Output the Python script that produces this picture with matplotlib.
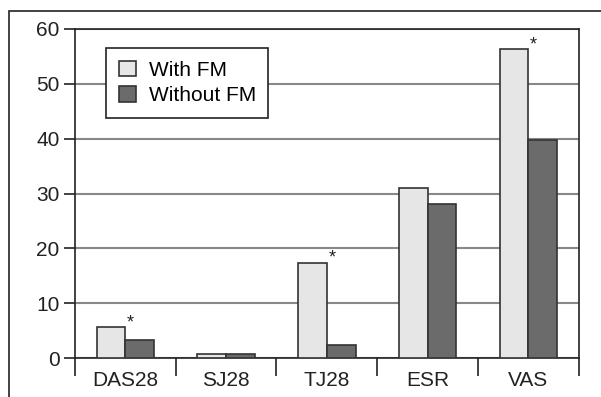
import numpy as np
import matplotlib.pyplot as plt
from matplotlib.patches import Rectangle

plt.rcParams['font.family'] = ['Liberation Sans', 'DejaVu Sans']

categories = ["DAS28", "SJ28", "TJ28", "ESR", "VAS"]
with_fm = [5.7, 0.8, 17.4, 31.0, 56.3]
without_fm = [3.3, 0.8, 2.3, 28.1, 39.8]
significant = [True, False, True, False, True]
y_ticks = [0, 10, 20, 30, 40, 50, 60]

fig = plt.figure(figsize=(6.01, 3.97), dpi=100)
fig.patches.append(Rectangle((9 / 601, -0.1), 1.2, (397 - 11) / 397 + 0.1,
                             transform=fig.transFigure, fill=False,
                             edgecolor="#222222", linewidth=1.2))
ax = fig.add_axes([75 / 601, 39 / 397, (578.7 - 75) / 601, (358 - 29) / 397])

x = np.arange(len(categories))
w = 0.285
ax.bar(x - w / 2, with_fm, w, color="#e6e6e6", edgecolor="#333333",
       linewidth=1.2, label="With FM", zorder=3)
ax.bar(x + w / 2, without_fm, w, color="#6b6b6b", edgecolor="#333333",
       linewidth=1.2, label="Without FM", zorder=3)

# significance markers
for i, sig in enumerate(significant):
    if sig:
        ax.text(x[i] + 0.05, with_fm[i] - 0.8, "*", ha="center", va="bottom",
                fontsize=13, color="#222222")

ax.set_xlim(-0.5, len(categories) - 0.5)
ax.set_ylim(0, 60)
ax.set_yticks(y_ticks)
ax.tick_params(axis="y", length=8, width=1.2, labelsize=15, pad=3,
               colors="#222222")
ax.set_xticks(x)
ax.set_xticklabels(categories)
ax.set_xticks(np.arange(-0.5, len(categories)), minor=True)
ax.tick_params(axis="x", which="major", length=0, labelsize=15, pad=9.5,
               colors="#222222")
ax.tick_params(axis="x", which="minor", length=13, width=1.2,
               direction="out", color="#222222")

ax.yaxis.grid(True, color="#888888", linewidth=1.5, zorder=0)
ax.set_axisbelow(True)
for s in ax.spines.values():
    s.set_color("#222222")
    s.set_linewidth(1.2)

leg = ax.legend(loc="upper left", bbox_to_anchor=(31 / 503.7, 1 - 19 / 329),
                fontsize=15, frameon=True, fancybox=False, framealpha=1,
                edgecolor="#222222", handlelength=0.85, handleheight=0.8,
                borderpad=0.6, labelspacing=0.3, handletextpad=0.6,
                borderaxespad=0)
leg.get_frame().set_linewidth(1.2)

fig.savefig("out.png", dpi=100)
